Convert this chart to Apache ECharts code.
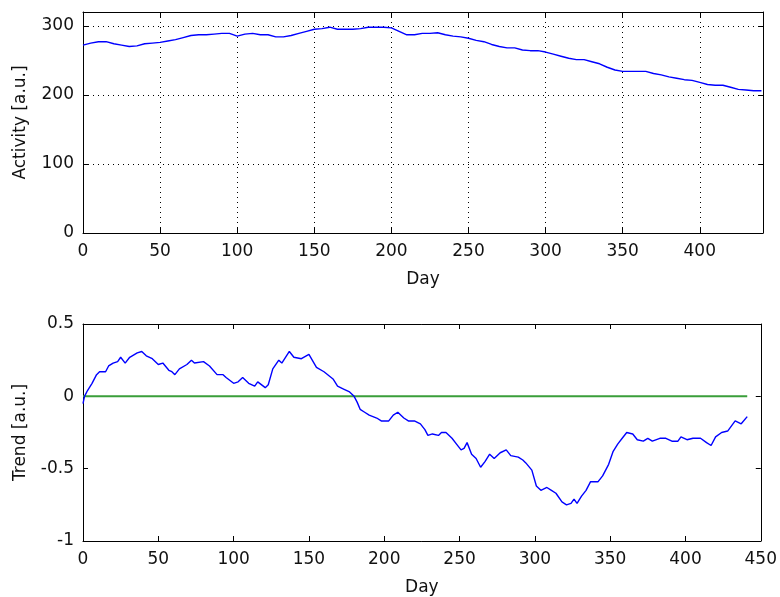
<!DOCTYPE html>
<html>
<head>
<meta charset="utf-8">
<script src="https://cdn.jsdelivr.net/npm/echarts@6/dist/echarts.min.js"></script>
<style>
  html, body { margin: 0; padding: 0; background: #fff; }
  #chart { width: 780px; height: 597px; }
</style>
</head>
<body>
<div id="chart"></div>
<script>
// activity, read every 5 days
var activityDays = [0, 5, 10, 15, 20, 25, 30, 35, 40, 45, 50, 55, 60, 65, 70, 75, 80, 85, 90, 95,
  100, 105, 110, 115, 120, 125, 130, 135, 140, 145, 150, 155, 160, 165, 170, 175, 180, 185, 190, 195,
  200, 205, 210, 215, 220, 225, 230, 235, 240, 245, 250, 255, 260, 265, 270, 275, 280, 285, 290, 295,
  300, 305, 310, 315, 320, 325, 330, 335, 340, 345, 350, 355, 360, 365, 370, 375, 380, 385, 390, 395,
  400, 405, 410, 415, 420, 425, 430, 435, 440];
var activity = [272, 275, 277, 277, 274, 272, 270, 271, 274, 275, 276, 278, 280, 283, 286, 287, 287, 288, 289, 289,
  285, 288, 289, 287, 287, 284, 284, 286, 289, 292, 295, 296, 298, 295, 295, 295, 296, 298, 298, 298,
  297, 292, 287, 287, 289, 289, 290, 287, 285, 284, 282, 279, 277, 273, 270, 268, 268, 265, 264, 264,
  262, 259, 256, 253, 251, 251, 248, 245, 240, 236, 234, 234, 234, 234, 231, 229, 226, 224, 222, 221,
  218, 215, 214, 214, 211, 208, 207, 206, 206];

var trendDays = [0, 1, 3, 6, 9, 11, 15, 17, 20, 23, 25, 28, 31, 36, 39, 42, 46, 50, 53, 57,
  59, 61, 64, 69, 72, 74, 80, 84, 89, 93, 95, 100, 103, 106, 110, 114, 116, 121, 123, 126,
  130, 132, 137, 140, 145, 150, 155, 160, 166, 169, 173, 177, 180, 182, 184, 187, 190, 195, 198, 203,
  206, 209, 213, 216, 220, 224, 227, 229, 232, 236, 238, 241, 245, 248, 251, 253, 255, 258, 261, 264,
  267, 270, 273, 277, 281, 284, 289, 292, 294, 298, 301, 304, 308, 311, 314, 318, 321, 324, 326, 328,
  331, 334, 337, 342, 345, 349, 352, 355, 358, 361, 365, 368, 372, 375, 378, 383, 387, 391, 395, 397,
  401, 405, 410, 414, 417, 420, 424, 428, 433, 437, 441];
var trend = [-0.05, 0.00, 0.04, 0.09, 0.15, 0.17, 0.17, 0.21, 0.23, 0.24, 0.27, 0.23, 0.27, 0.30, 0.31, 0.28, 0.26, 0.22, 0.23, 0.18,
  0.17, 0.15, 0.19, 0.22, 0.25, 0.23, 0.24, 0.21, 0.15, 0.15, 0.13, 0.09, 0.10, 0.13, 0.09, 0.07, 0.10, 0.06, 0.08, 0.19,
  0.25, 0.23, 0.31, 0.27, 0.26, 0.29, 0.20, 0.17, 0.12, 0.07, 0.05, 0.03, 0.00, -0.04, -0.09, -0.11, -0.13, -0.15, -0.17, -0.17,
  -0.13, -0.11, -0.15, -0.17, -0.17, -0.19, -0.23, -0.27, -0.26, -0.27, -0.25, -0.25, -0.29, -0.33, -0.37, -0.36, -0.32, -0.40, -0.43, -0.49,
  -0.45, -0.40, -0.43, -0.39, -0.37, -0.41, -0.42, -0.44, -0.46, -0.51, -0.62, -0.65, -0.63, -0.65, -0.67, -0.73, -0.75, -0.74, -0.71, -0.74,
  -0.69, -0.65, -0.59, -0.59, -0.55, -0.47, -0.38, -0.33, -0.29, -0.25, -0.26, -0.30, -0.31, -0.29, -0.31, -0.29, -0.29, -0.31, -0.31, -0.28,
  -0.30, -0.29, -0.29, -0.32, -0.34, -0.28, -0.25, -0.24, -0.17, -0.19, -0.14];

var zeroDays = [0, 441];
var zeroValues = [0, 0];

function zip(xs, ys) {
  return xs.map(function (x, i) { return [x, ys[i]]; });
}

var font = "'DejaVu Sans', sans-serif";
var textStyle = { color: '#111', fontSize: 17, fontFamily: font };
var dotted = { color: '#000', type: [1, 4], width: 1 };

function mainX(grid, max, showGrid) {
  return {
    type: 'value', gridIndex: grid, min: 0, max: max, interval: 50,
    name: 'Day', nameLocation: 'middle', nameGap: 38, nameTextStyle: textStyle,
    axisLine: { onZero: false, lineStyle: { color: '#000' } },
    axisTick: { inside: true, length: 5, lineStyle: { color: '#000' } },
    axisLabel: Object.assign({ margin: 10, formatter: function (v) { return v % 50 === 0 ? String(v) : ''; } }, textStyle),
    splitLine: { show: showGrid, lineStyle: dotted }
  };
}
function topX(grid, max) {
  return {
    type: 'value', gridIndex: grid, min: 0, max: max, interval: 50, position: 'top',
    axisLine: { onZero: false, lineStyle: { color: '#000' } },
    axisTick: { inside: true, length: 5, lineStyle: { color: '#000' } },
    axisLabel: { show: false }, splitLine: { show: false }
  };
}
function mainY(grid, min, max, interval, name, showGrid) {
  return {
    type: 'value', gridIndex: grid, min: min, max: max, interval: interval,
    name: name, nameLocation: 'middle', nameGap: 54, nameTextStyle: textStyle,
    axisLine: { onZero: false, lineStyle: { color: '#000' } },
    axisTick: { inside: true, length: 5, lineStyle: { color: '#000' } },
    axisLabel: Object.assign({ margin: 9, formatter: function (v) {
      var k = Math.round(v / interval);
      return Math.abs(k * interval - v) < 1e-9 ? String(v) : '';
    } }, textStyle),
    splitLine: { show: showGrid, lineStyle: dotted }
  };
}
function rightY(grid, min, max, interval) {
  return {
    type: 'value', gridIndex: grid, min: min, max: max, interval: interval, position: 'right',
    axisLine: { onZero: false, lineStyle: { color: '#000' } },
    axisTick: { inside: true, length: 5, lineStyle: { color: '#000' } },
    axisLabel: { show: false }, splitLine: { show: false }
  };
}

var chart = echarts.init(document.getElementById('chart'), null, { renderer: 'canvas' });
chart.setOption({
  backgroundColor: '#fff',
  animation: false,
  grid: [
    { left: 83, top: 12, width: 680, height: 221 },
    { left: 83, top: 324, width: 680, height: 220 }
  ],
  xAxis: [mainX(0, 441, true), topX(0, 441), mainX(1, 450, false), topX(1, 450)],
  yAxis: [mainY(0, 0, 320, 100, 'Activity [a.u.]', true), rightY(0, 0, 320, 100),
          mainY(1, -1, 0.5, 0.5, 'Trend [a.u.]', false), rightY(1, -1, 0.5, 0.5)],
  series: [
    {
      type: 'line', xAxisIndex: 0, yAxisIndex: 0, data: zip(activityDays, activity),
      showSymbol: false, lineStyle: { color: '#0000ff', width: 1.4 }
    },
    {
      type: 'line', xAxisIndex: 2, yAxisIndex: 2, data: zip(zeroDays, zeroValues),
      showSymbol: false, lineStyle: { color: '#3a9e3a', width: 2 }
    },
    {
      type: 'line', xAxisIndex: 2, yAxisIndex: 2, data: zip(trendDays, trend),
      showSymbol: false, lineStyle: { color: '#0000ff', width: 1.4 }
    }
  ]
});
</script>
</body>
</html>
